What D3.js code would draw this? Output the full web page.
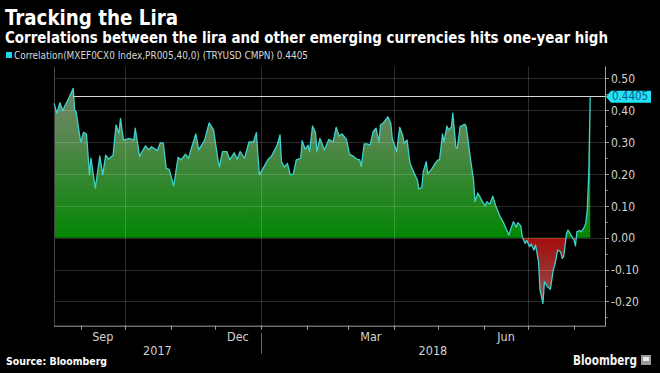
<!DOCTYPE html>
<html>
<head>
<meta charset="utf-8">
<script src="https://cdn.jsdelivr.net/npm/d3@7"></script>
<style>
  html, body { margin: 0; padding: 0; background: #000; }
  svg { display: block; }
  text { font-family: "DejaVu Sans Condensed", "DejaVu Sans", sans-serif; font-stretch: condensed; }
</style>
</head>
<body>
<div id="chart"></div>
<script>
// series
const dates = [
  "2017-08-14","2017-08-16","2017-08-18","2017-08-20","2017-08-21","2017-08-24","2017-08-27","2017-08-28","2017-08-29",
  "2017-09-01","2017-09-03","2017-09-05","2017-09-07","2017-09-08","2017-09-11","2017-09-14","2017-09-16","2017-09-18",
  "2017-09-20","2017-09-23","2017-09-25","2017-09-27","2017-09-28","2017-09-30",
  "2017-10-04","2017-10-07","2017-10-08","2017-10-11","2017-10-12","2017-10-15","2017-10-17","2017-10-19","2017-10-23",
  "2017-10-25","2017-10-27","2017-10-29","2017-10-31",
  "2017-11-03","2017-11-06","2017-11-08","2017-11-11","2017-11-13","2017-11-14","2017-11-18","2017-11-20","2017-11-24",
  "2017-11-27","2017-11-29","2017-11-30",
  "2017-12-03","2017-12-04","2017-12-06","2017-12-09","2017-12-11","2017-12-14","2017-12-16","2017-12-18","2017-12-21",
  "2017-12-24","2017-12-27","2017-12-29","2017-12-31",
  "2018-01-03","2018-01-06","2018-01-08","2018-01-11","2018-01-12","2018-01-14","2018-01-15","2018-01-17","2018-01-19",
  "2018-01-21","2018-01-23","2018-01-25","2018-01-28","2018-01-29","2018-01-31",
  "2018-02-02","2018-02-03","2018-02-05","2018-02-07","2018-02-08","2018-02-10","2018-02-11","2018-02-13","2018-02-16",
  "2018-02-19","2018-02-21","2018-02-23","2018-02-25","2018-02-28",
  "2018-03-02","2018-03-05","2018-03-07","2018-03-09","2018-03-10","2018-03-12","2018-03-14","2018-03-16","2018-03-18",
  "2018-03-20","2018-03-22","2018-03-23","2018-03-25","2018-03-28","2018-03-30","2018-03-31",
  "2018-04-03","2018-04-05","2018-04-07","2018-04-08","2018-04-10","2018-04-12","2018-04-15","2018-04-17","2018-04-18",
  "2018-04-20","2018-04-21","2018-04-23","2018-04-24","2018-04-27","2018-04-29",
  "2018-05-01","2018-05-02","2018-05-04","2018-05-05","2018-05-07","2018-05-08","2018-05-10","2018-05-11","2018-05-13",
  "2018-05-14","2018-05-16","2018-05-17","2018-05-19","2018-05-20","2018-05-21","2018-05-23","2018-05-25","2018-05-26",
  "2018-05-28","2018-05-31",
  "2018-06-02","2018-06-03","2018-06-05","2018-06-07","2018-06-09","2018-06-12","2018-06-14","2018-06-16","2018-06-18",
  "2018-06-19","2018-06-21","2018-06-23","2018-06-24","2018-06-26","2018-06-27","2018-06-29","2018-06-30",
  "2018-07-02","2018-07-03","2018-07-05","2018-07-06","2018-07-08","2018-07-09","2018-07-11","2018-07-12","2018-07-14",
  "2018-07-16","2018-07-18","2018-07-19","2018-07-21","2018-07-23","2018-07-24","2018-07-25","2018-07-27","2018-07-28",
  "2018-07-30",
  "2018-08-01","2018-08-02","2018-08-03","2018-08-05","2018-08-06","2018-08-08","2018-08-09","2018-08-10","2018-08-11",
  "2018-08-12"
];
const values = [
  0.421,0.39,0.423,0.398,0.41,0.437,0.468,0.40,0.395,
  0.30,0.33,0.325,0.197,0.249,0.155,0.256,0.197,0.259,
  0.246,0.259,0.353,0.327,0.374,0.306,
  0.311,0.306,0.343,0.254,0.265,0.288,0.275,0.285,0.273,
  0.298,0.296,0.217,0.214,
  0.162,0.252,0.244,0.262,0.249,0.265,0.325,0.275,0.306,
  0.36,0.346,0.338,
  0.244,0.221,0.27,0.27,0.244,0.266,0.246,0.27,0.249,
  0.30,0.30,0.329,0.197,
  0.221,0.246,0.254,0.28,0.29,0.322,0.238,0.221,0.233,
  0.197,0.199,0.244,0.249,0.304,0.277,
  0.29,0.27,0.35,0.33,0.27,0.311,0.30,0.275,0.308,
  0.30,0.346,0.319,0.325,0.308,
  0.262,0.254,0.246,0.244,0.223,0.294,0.294,0.29,0.332,
  0.343,0.30,0.353,0.36,0.379,0.359,0.311,
  0.27,0.346,0.322,0.296,0.306,0.233,0.20,0.181,0.152,
  0.158,0.207,0.238,0.20,0.217,0.233,
  0.244,0.244,0.325,0.30,0.35,0.338,0.346,0.39,0.285,
  0.28,0.35,0.35,0.356,0.35,0.317,0.244,0.181,0.113,
  0.14,0.113,
  0.10,0.113,0.105,0.13,0.10,0.066,0.05,0.029,0.008,
  0.024,0.05,0.033,0.047,0.037,0.003,-0.018,-0.009,
  -0.028,-0.02,-0.039,-0.023,-0.075,-0.164,-0.206,-0.138,-0.154,
  -0.162,-0.101,-0.086,-0.039,-0.044,-0.065,-0.06,0.014,0.024,
  0.008,
  -0.007,-0.026,0.019,0.022,0.018,0.033,0.045,0.087,0.2,
  0.4405
];
const yTickValues = [0.5, 0.4, 0.3, 0.2, 0.1, 0.0, -0.1, -0.2];
const yMinorValues = [0.45, 0.35, 0.25, 0.15, 0.05, -0.05, -0.15, -0.25];
const monthLabels = ["Sep", "Dec", "Mar", "Jun"];
const yearLabels = ["2017", "2018"];
const legendText = "Correlation(MXEF0CX0 Index,PR005,40,0) (TRYUSD CMPN) 0.4405";

const width = 660, height = 373;
const plot = { left: 54, right: 605, top: 66.7, bottom: 325.7 };
const parse = d3.timeParse("%Y-%m-%d");
const data = dates.map((d, i) => ({ date: parse(d), value: values[i] }));
const last = data[data.length - 1];

const svg = d3.select("#chart").append("svg")
  .attr("width", width).attr("height", height);
svg.append("rect").attr("width", width).attr("height", height).attr("fill", "#000");

const x = d3.scaleTime()
  .domain([new Date(2017, 7, 14), new Date(2018, 7, 22)])
  .range([plot.left, plot.right]);
const y = d3.scaleLinear()
  .domain([-0.276, 0.536])
  .range([plot.bottom, plot.top]);

// fill gradient: greyish green far from zero, bright green at zero, red below
const zeroOff = (y(0) - plot.top) / (plot.bottom - plot.top);
const grad = svg.append("defs").append("linearGradient")
  .attr("id", "fillGrad").attr("gradientUnits", "userSpaceOnUse")
  .attr("x1", 0).attr("x2", 0).attr("y1", plot.top).attr("y2", plot.bottom);
[[0, "#6f8a68"], [zeroOff * 0.35, "#5f8757"], [zeroOff, "#038603"], [zeroOff, "#a30c0c"], [1, "#8a6a6a"]]
  .forEach(([o, c]) => grad.append("stop").attr("offset", o).attr("stop-color", c));

const area = d3.area()
  .x(d => x(d.date))
  .y0(y(0))
  .y1(d => y(d.value));
svg.append("path").datum(data)
  .attr("d", area)
  .attr("fill", "url(#fillGrad)");

// grid
const grid = svg.append("g").attr("stroke", "rgba(255,255,255,0.17)").attr("stroke-width", 1);
grid.selectAll("line.h").data(yTickValues).join("line")
  .attr("x1", plot.left).attr("x2", plot.right)
  .attr("y1", d => Math.round(y(d)) + 0.5).attr("y2", d => Math.round(y(d)) + 0.5);
const quarterStarts = d3.timeMonth.range(new Date(2017, 9, 1), x.domain()[1], 3);
grid.selectAll("line.v").data(quarterStarts).join("line")
  .attr("x1", d => Math.round(x(d)) + 0.5).attr("x2", d => Math.round(x(d)) + 0.5)
  .attr("y1", plot.top).attr("y2", plot.bottom);
svg.append("line")
  .attr("x1", plot.left + 0.5).attr("x2", plot.left + 0.5)
  .attr("y1", plot.top).attr("y2", plot.bottom)
  .attr("stroke", "#444");

// series line
const line = d3.line()
  .x(d => x(d.date))
  .y(d => y(d.value));
svg.append("path").datum(data)
  .attr("d", line)
  .attr("fill", "none")
  .attr("stroke", "#3fd2cc")
  .attr("stroke-width", 1.3)
  .attr("stroke-linejoin", "round");

// one-year-high line, from the last time the series was above the latest value
const prevHigh = data.slice(0, -1).filter(d => d.value >= last.value).pop();
svg.append("line")
  .attr("x1", x(prevHigh.date)).attr("x2", plot.right)
  .attr("y1", Math.round(y(last.value)) - 0.5).attr("y2", Math.round(y(last.value)) - 0.5)
  .attr("stroke", "#d8d8d8").attr("stroke-width", 1);

// right axis
const axisCol = "#a0a0a0";
svg.append("line")
  .attr("x1", plot.right + 0.5).attr("x2", plot.right + 0.5)
  .attr("y1", plot.top).attr("y2", plot.bottom)
  .attr("stroke", axisCol);
svg.append("g").selectAll("line").data(yTickValues).join("line")
  .attr("x1", plot.right).attr("x2", plot.right + 4)
  .attr("y1", d => Math.round(y(d)) + 0.5).attr("y2", d => Math.round(y(d)) + 0.5)
  .attr("stroke", axisCol);
svg.append("g").selectAll("line").data(yMinorValues).join("line")
  .attr("x1", plot.right).attr("x2", plot.right + 2.5)
  .attr("y1", d => Math.round(y(d)) + 0.5).attr("y2", d => Math.round(y(d)) + 0.5)
  .attr("stroke", axisCol);
svg.append("g").selectAll("text").data(yTickValues).join("text")
  .attr("x", plot.right + 6)
  .attr("y", d => y(d) + 4.8)
  .attr("fill", "#d2d2d2")
  .attr("font-size", 12)
  .text(d => d3.format(".2f")(d).replace("−", "-"));

// last value tag
const ty = y(last.value) - 0.5;
svg.append("path")
  .attr("d", `M${plot.right + 1},${ty} L${plot.right + 6},${ty - 6} L651,${ty - 6} L651,${ty + 6} L${plot.right + 6},${ty + 6} Z`)
  .attr("fill", "#22e3f2");
svg.append("text")
  .attr("x", plot.right + 7).attr("y", ty + 3.8)
  .attr("fill", "#0b5a8c").attr("font-size", 11.5)
  .text(d3.format(".4f")(last.value));

// bottom axis
svg.append("line")
  .attr("x1", plot.left).attr("x2", plot.right + 1)
  .attr("y1", plot.bottom + 0.5).attr("y2", plot.bottom + 0.5)
  .attr("stroke", axisCol);
const monthStarts = d3.timeMonth.range(new Date(2017, 8, 1), x.domain()[1]);
svg.append("g").selectAll("line").data(monthStarts).join("line")
  .attr("x1", d => Math.round(x(d)) + 0.5).attr("x2", d => Math.round(x(d)) + 0.5)
  .attr("y1", plot.bottom).attr("y2", plot.bottom + 4)
  .attr("stroke", axisCol);
const labelled = monthStarts.filter(d => monthLabels.includes(d3.timeFormat("%b")(d)));
svg.append("g").selectAll("text").data(labelled).join("text")
  .attr("x", d => (x(d) + x(d3.timeMonth.offset(d, 1))) / 2)
  .attr("y", plot.bottom + 15)
  .attr("text-anchor", "middle")
  .attr("fill", "#d2d2d2").attr("font-size", 12.5)
  .text(d => d3.timeFormat("%b")(d));
const yearStart = new Date(2018, 0, 1);
svg.append("line")
  .attr("x1", Math.round(x(yearStart)) + 0.5).attr("x2", Math.round(x(yearStart)) + 0.5)
  .attr("y1", plot.bottom + 7).attr("y2", plot.bottom + 28)
  .attr("stroke", "#666");
const yearSpans = [[plot.left, x(yearStart)], [x(yearStart), plot.right]];
svg.append("g").selectAll("text").data(yearLabels).join("text")
  .attr("x", (d, i) => (yearSpans[i][0] + yearSpans[i][1]) / 2)
  .attr("y", plot.bottom + 29)
  .attr("text-anchor", "middle")
  .attr("fill", "#d2d2d2").attr("font-size", 12.5)
  .text(d => d);

// header
svg.append("text").attr("x", 5).attr("y", 25)
  .attr("fill", "#fff").attr("font-size", 21).attr("font-weight", "bold")
  .attr("textLength", 173).attr("lengthAdjust", "spacingAndGlyphs")
  .text("Tracking the Lira");
svg.append("text").attr("x", 5).attr("y", 43)
  .attr("fill", "#fff").attr("font-size", 15).attr("font-weight", "bold")
  .attr("textLength", 603).attr("lengthAdjust", "spacingAndGlyphs")
  .text("Correlations between the lira and other emerging currencies hits one-year high");
svg.append("rect").attr("x", 6).attr("y", 52).attr("width", 6).attr("height", 6).attr("fill", "#1ad8e6");
svg.append("text").attr("x", 14).attr("y", 59)
  .attr("fill", "#d8d8d8").attr("font-size", 10.5)
  .attr("textLength", 294).attr("lengthAdjust", "spacingAndGlyphs")
  .text(legendText);

// footer
svg.append("text").attr("x", 6).attr("y", 365)
  .attr("fill", "#fff").attr("font-size", 10.5).attr("font-weight", "bold")
  .attr("textLength", 101).attr("lengthAdjust", "spacingAndGlyphs")
  .text("Source: Bloomberg");
svg.append("text").attr("x", 573).attr("y", 365)
  .attr("fill", "#f2f2f2").attr("font-size", 14).attr("font-weight", "bold")
  .attr("textLength", 64).attr("lengthAdjust", "spacingAndGlyphs")
  .text("Bloomberg");
svg.append("rect").attr("x", 641).attr("y", 355).attr("width", 10).attr("height", 10).attr("fill", "#9a9a9a");
svg.append("rect").attr("x", 643).attr("y", 357).attr("width", 6).attr("height", 4).attr("fill", "#e8e8e8");
</script>
</body>
</html>
